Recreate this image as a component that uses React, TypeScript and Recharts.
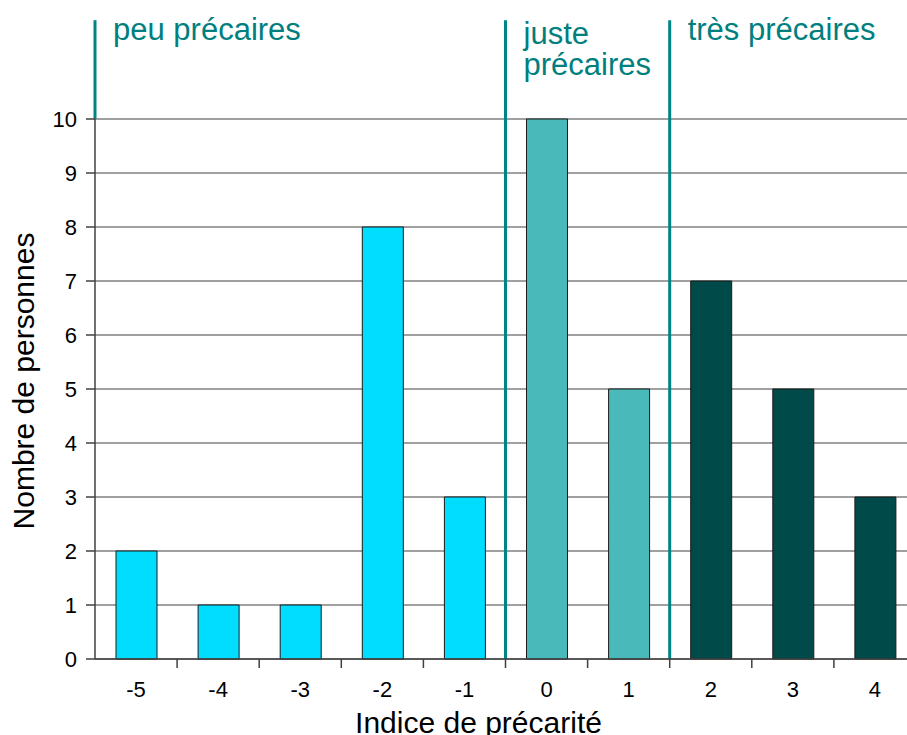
import React from 'react';
import { BarChart, Bar, XAxis, YAxis, CartesianGrid, ReferenceLine, Cell, Label } from 'recharts';

const categories = [-5, -4, -3, -2, -1, 0, 1, 2, 3, 4];
const counts = [2, 1, 1, 8, 3, 10, 5, 7, 5, 3];
const groupOf = ['peu', 'peu', 'peu', 'peu', 'peu', 'juste', 'juste', 'tres', 'tres', 'tres'];
const yTicks = [0, 1, 2, 3, 4, 5, 6, 7, 8, 9, 10];
const boundaryTicks = [-4.5, -3.5, -2.5, -1.5, -0.5, 0.5, 1.5, 2.5, 3.5, 4.5];
const xDomain = [-5.5, 4.5];
const separators = [-5.5, -0.5, 1.5];
const separatorBottoms = [10, 0, 0];
const separatorTop = 11.83;
const tickMarkDepth = -0.167;
const groupLabels = [['peu précaires'], ['juste', 'précaires'], ['très précaires']];

const groupColors: Record<string, string> = {
  peu: '#00DDFF',
  juste: '#4AB9B9',
  tres: '#004A4A',
};

const data = categories.map((x, i) => ({ x, count: counts[i], group: groupOf[i] }));

const FONT = '"Liberation Sans", Arial, sans-serif';
const TEAL = '#008585';
const TEAL_TEXT = '#007F7F';
const AXIS = '#404040';

const labelBaselines = [[20], [24, 55], [20]];

export default function App() {
  return (
    <div style={{ position: 'absolute', left: 0, top: 0, width: 907, height: 735, overflow: 'hidden', background: '#fff' }}>
      <BarChart
        width={930}
        height={735}
        data={data}
        margin={{ top: 119, right: 14, left: 0, bottom: 0 }}
        barCategoryGap="25%"
        style={{ fontFamily: FONT }}
      >
        <CartesianGrid horizontal vertical={false} stroke="#808080" strokeWidth={1.5} />
        <XAxis
          type="number"
          dataKey="x"
          domain={xDomain}
          ticks={categories}
          allowDataOverflow
          interval={0}
          tickLine={false}
          axisLine={{ stroke: AXIS, strokeWidth: 1.5 }}
          tickSize={6}
          tickMargin={16}
          tick={{ fill: '#000', fontSize: 22, fontFamily: FONT }}
          height={76}
        >
          <Label
            content={(props: any) => {
              const vb = props.viewBox || {};
              return (
                <text
                  x={vb.x + vb.width / 2 - 27}
                  y={vb.y + 74}
                  textAnchor="middle"
                  fontSize={30}
                  fontFamily={FONT}
                  fill="#000"
                >
                  Indice de précarité
                </text>
              );
            }}
          />
        </XAxis>
        <YAxis
          type="number"
          domain={[0, 10]}
          ticks={yTicks}
          interval={0}
          width={95}
          tickSize={9}
          tickMargin={9}
          tickLine={{ stroke: AXIS, strokeWidth: 1.5 }}
          axisLine={{ stroke: AXIS, strokeWidth: 1.5 }}
          tick={{ fill: '#000', fontSize: 22, fontFamily: FONT }}
        >
          <Label
            content={(props: any) => {
              const vb = props.viewBox || {};
              const cx = vb.x + 33.5;
              const cy = vb.y + vb.height / 2 - 8;
              return (
                <text
                  x={cx}
                  y={cy}
                  transform={`rotate(-90, ${cx}, ${cy})`}
                  textAnchor="middle"
                  fontSize={30}
                  fontFamily={FONT}
                  fill="#000"
                >
                  Nombre de personnes
                </text>
              );
            }}
          />
        </YAxis>
        <Bar dataKey="count" isAnimationActive={false} barSize={41} stroke="#1a1a1a" strokeWidth={1}>
          {data.map((d, i) => (
            <Cell key={i} fill={groupColors[d.group]} />
          ))}
        </Bar>
        {boundaryTicks.map((bx) => (
          <ReferenceLine
            key={`t${bx}`}
            ifOverflow="visible"
            segment={[
              { x: bx, y: 0 },
              { x: bx, y: tickMarkDepth },
            ]}
            stroke={AXIS}
            strokeWidth={1.5}
          />
        ))}
        {separators.map((sx, i) => (
          <ReferenceLine
            key={i}
            ifOverflow="visible"
            segment={[
              { x: sx, y: separatorBottoms[i] },
              { x: sx, y: separatorTop },
            ]}
            stroke={TEAL}
            strokeWidth={3}
            label={(props: any) => {
              const vb = props.viewBox || {};
              const lines = groupLabels[i];
              return (
                <text fontSize={31} fontFamily={FONT} fill={TEAL_TEXT} textAnchor="start">
                  {lines.map((t, j) => (
                    <tspan key={j} x={vb.x + 18} y={vb.y + labelBaselines[i][j]}>
                      {t}
                    </tspan>
                  ))}
                </text>
              );
            }}
          />
        ))}
      </BarChart>
    </div>
  );
}
